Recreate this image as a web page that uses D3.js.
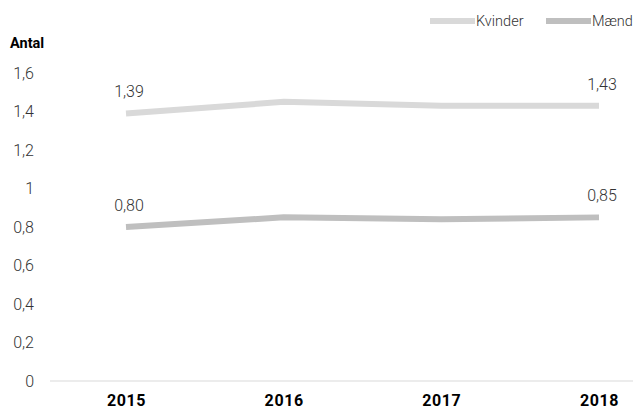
<!DOCTYPE html>
<html><head><meta charset="utf-8">
<script src="https://cdn.jsdelivr.net/npm/d3@7"></script>
<style>body{margin:0;background:#fff;}svg{display:block;font-family:Roboto,"Noto Sans",sans-serif;}</style>
</head><body><svg id="c" width="638" height="412"></svg>
<script>
const years = ["2015","2016","2017","2018"];
const kvinder = [1.39, 1.45, 1.43, 1.43];
const maend = [0.80, 0.85, 0.84, 0.85];
const yTicks = [0, 0.2, 0.4, 0.6, 0.8, 1, 1.2, 1.4, 1.6];
const seriesNames = ["Kvinder", "Mænd"];
const colors = ["#d9d9d9", "#bfbfbf"];

const svg = d3.select("#c");
const x = d3.scalePoint().domain(years).range([126, 599]);
const y = d3.scaleLinear().domain([0, 1.6]).range([381, 73]);
const fmt = v => (v === 1 || v === 0) ? String(v) : d3.format(".1f")(v).replace(".", ",");
const fmt2 = v => d3.format(".2f")(v).replace(".", ",");

// baseline
svg.append("line").attr("x1", 50).attr("x2", 633).attr("y1", y(0)).attr("y2", y(0))
  .attr("stroke", "#d9d9d9").attr("stroke-width", 1);

// y axis
const yAxis = svg.append("g").attr("transform", "translate(34,0)")
  .call(d3.axisLeft(y).tickValues(yTicks).tickFormat(fmt).tickSize(0).tickPadding(0));
yAxis.select(".domain").remove();
yAxis.selectAll("text").attr("font-size", 16).attr("fill", "#333").attr("font-weight", 300)
  .attr("font-family", "Roboto, sans-serif");

// x axis
const xAxis = svg.append("g").attr("transform", "translate(0,395)")
  .call(d3.axisBottom(x).tickSize(0).tickPadding(0));
xAxis.select(".domain").remove();
xAxis.selectAll("text").attr("font-size", 16).attr("font-weight", "bold").attr("fill", "#000")
  .attr("letter-spacing", 0.6).attr("font-family", "Roboto, sans-serif");

// title
svg.append("text").attr("x", 10).attr("y", 48).text("Antal")
  .attr("font-size", 14.5).attr("font-weight", "bold").attr("fill", "#000");

const line = d3.line().x((d, i) => x(years[i])).y(d => y(d));
[kvinder, maend].forEach((s, k) => {
  svg.append("path").datum(s).attr("d", line).attr("fill", "none")
    .attr("stroke", colors[k]).attr("stroke-width", 6);
  [0, s.length - 1].forEach(i => {
    svg.append("text").attr("x", x(years[i]) + 3).attr("y", y(s[i]) - 16)
      .attr("text-anchor", "middle").attr("font-size", 16).attr("font-weight", 300)
      .attr("fill", "#333").text(fmt2(s[i]));
  });
});

// legend
const legX = [430, 546];
seriesNames.forEach((n, k) => {
  svg.append("line").attr("x1", legX[k]).attr("x2", legX[k] + 45).attr("y1", 21).attr("y2", 21)
    .attr("stroke", colors[k]).attr("stroke-width", 6);
  svg.append("text").attr("x", legX[k] + 46).attr("y", 26).text(n)
    .attr("font-size", 14.5).attr("font-weight", 300).attr("fill", "#333");
});
</script></body></html>
